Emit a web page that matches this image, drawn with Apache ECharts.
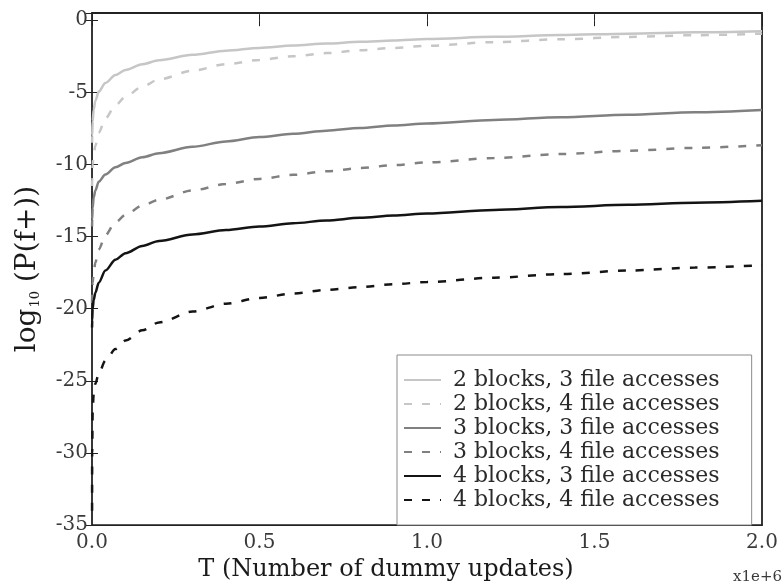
<!DOCTYPE html>
<html>
<head>
<meta charset="utf-8">
<script src="https://cdn.jsdelivr.net/npm/echarts@6/dist/echarts.min.js"></script>
<style>
  html, body { margin: 0; padding: 0; background: #fff; }
  #chart { width: 784px; height: 587px; }
</style>
</head>
<body>
<div id="chart"></div>
<script>
// Number of dummy updates T, in millions
const T = [0.0002, 0.0005, 0.002, 0.005, 0.01, 0.02, 0.04, 0.07, 0.1, 0.15, 0.2, 0.3, 0.4, 0.5,
           0.6, 0.7, 0.8, 0.9, 1.0, 1.2, 1.4, 1.6, 1.8, 2.0];

// log10(P(f+)) for each configuration
const b2a3 = [-8.5, -8.0, -7.0, -6.2, -5.6, -4.95, -4.35, -3.8, -3.45, -3.05, -2.78, -2.4, -2.12, -1.92,
              -1.76, -1.62, -1.5, -1.4, -1.3, -1.15, -1.03, -0.93, -0.84, -0.76];
const b2a4 = [-11.5, -11.0, -10.0, -9.3, -8.7, -7.8, -6.8, -5.9, -5.3, -4.6, -4.1, -3.5, -3.05, -2.75,
              -2.5, -2.28, -2.08, -1.92, -1.77, -1.52, -1.32, -1.16, -1.04, -0.93];
const b3a3 = [-14.3, -13.8, -13.0, -12.3, -11.8, -11.2, -10.7, -10.2, -9.9, -9.5, -9.22, -8.78, -8.4, -8.1,
              -7.87, -7.66, -7.47, -7.3, -7.16, -6.92, -6.72, -6.55, -6.38, -6.22];
const b3a4 = [-19.6, -19.0, -18.2, -17.5, -16.8, -15.9, -14.9, -14.0, -13.5, -12.85, -12.45, -11.8, -11.35, -11.0,
              -10.72, -10.47, -10.25, -10.05, -9.86, -9.55, -9.28, -9.05, -8.85, -8.66];
const b4a3 = [-21.3, -20.8, -20.0, -19.4, -18.9, -18.2, -17.35, -16.6, -16.15, -15.65, -15.3, -14.85, -14.55, -14.3,
              -14.08, -13.88, -13.7, -13.54, -13.4, -13.15, -12.95, -12.8, -12.65, -12.52];
const b4a4 = [-34.0, -30.0, -27.0, -25.9, -25.2, -24.5, -23.6, -22.8, -22.2, -21.5, -20.95, -20.2, -19.65, -19.25,
              -18.95, -18.7, -18.5, -18.3, -18.15, -17.85, -17.6, -17.35, -17.15, -16.98];

const seriesNames = [
  '2 blocks, 3 file accesses',
  '2 blocks, 4 file accesses',
  '3 blocks, 3 file accesses',
  '3 blocks, 4 file accesses',
  '4 blocks, 3 file accesses',
  '4 blocks, 4 file accesses'
];
const seriesValues = [b2a3, b2a4, b3a3, b3a4, b4a3, b4a4];
const seriesColors = ['#c6c6c6', '#c6c6c6', '#808080', '#808080', '#141414', '#141414'];
const seriesDashed = [false, true, false, true, false, true];

const xTicks = [0, 0.5, 1.0, 1.5, 2.0];

const SERIF = '"DejaVu Serif", "Liberation Serif", serif';
const frameColor = '#222222';

const chart = echarts.init(document.getElementById('chart'), null, { renderer: 'canvas' });

const series = seriesNames.map((name, i) => ({
  name: name,
  type: 'line',
  data: T.map((t, k) => [t, seriesValues[i][k]]),
  showSymbol: false,
  symbol: 'none',
  smooth: 0.3,
  smoothMonotone: 'x',
  lineStyle: {
    color: seriesColors[i],
    width: 2.5,
    type: seriesDashed[i] ? [8, 10] : 'solid',
    cap: 'butt'
  },
  itemStyle: { color: seriesColors[i] },
  emphasis: { disabled: true },
  z: 3
}));

const tickStyle = { show: true, inside: true, length: 6, lineStyle: { color: frameColor, width: 1 } };

chart.setOption({
  animation: false,
  backgroundColor: '#fff',
  grid: {
    left: 92, right: 22, top: 13, bottom: 55,
    show: true, borderColor: frameColor, borderWidth: 1.8, backgroundColor: '#fff'
  },
  legend: {
    orient: 'vertical',
    left: 397,
    top: 355,
    data: seriesNames,
    backgroundColor: '#fff',
    borderColor: '#8a8a8a',
    borderWidth: 1,
    borderRadius: 0,
    padding: [14, 32, 14, 6],
    itemWidth: 37,
    itemHeight: 14,
    itemGap: 2,
    itemStyle: { opacity: 0 },
    textStyle: { fontFamily: SERIF, fontSize: 22, lineHeight: 22, color: '#2a2a2a', padding: [0, 0, 0, 7] },
    selectedMode: false
  },
  xAxis: [
    {
      type: 'value', position: 'bottom', min: 0, max: 2, interval: 0.5,
      name: 'T (Number of dummy updates)',
      nameLocation: 'middle', nameGap: 31,
      nameTextStyle: { fontFamily: SERIF, fontSize: 24, color: '#1a1a1a', padding: [0, 82, 0, 0] },
      axisLine: { show: false },
      axisTick: tickStyle,
      splitLine: { show: false },
      axisLabel: {
        fontFamily: SERIF, fontSize: 20, color: '#3a3a3a', margin: 8,
        formatter: v => (xTicks.indexOf(v) >= 0 ? v.toFixed(1) : '')
      }
    },
    {
      type: 'value', position: 'top', min: 0, max: 2, interval: 0.5,
      axisLine: { show: false }, axisTick: tickStyle,
      axisLabel: { show: false }, splitLine: { show: false }
    }
  ],
  yAxis: [
    {
      type: 'value', position: 'left', min: -35, max: 0.5, interval: 5,
      name: 'log{sub|10} (P(f+))',
      nameLocation: 'middle', nameGap: 50, nameRotate: 90,
      nameTextStyle: {
        fontFamily: SERIF, fontSize: 28, color: '#1a1a1a',
        rich: {
          sub: { fontFamily: SERIF, fontSize: 13, color: '#1a1a1a', verticalAlign: 'bottom', padding: [12, 0, 0, 1] }
        }
      },
      axisLine: { show: false },
      axisTick: tickStyle,
      splitLine: { show: false },
      axisLabel: {
        fontFamily: SERIF, fontSize: 20, color: '#3a3a3a', margin: 4,
        formatter: v => (Math.abs(v % 5) < 1e-9 ? String(v) : '')
      }
    },
    {
      type: 'value', position: 'right', min: -35, max: 0.5, interval: 5,
      axisLine: { show: false }, axisTick: tickStyle,
      axisLabel: { show: false }, splitLine: { show: false }
    }
  ],
  graphic: [
    {
      type: 'text', right: 2, top: 570,
      style: { text: 'x1e+6', font: '15px ' + SERIF, fill: '#3a3a3a' }
    }
  ],
  series: series
});
</script>
</body>
</html>
